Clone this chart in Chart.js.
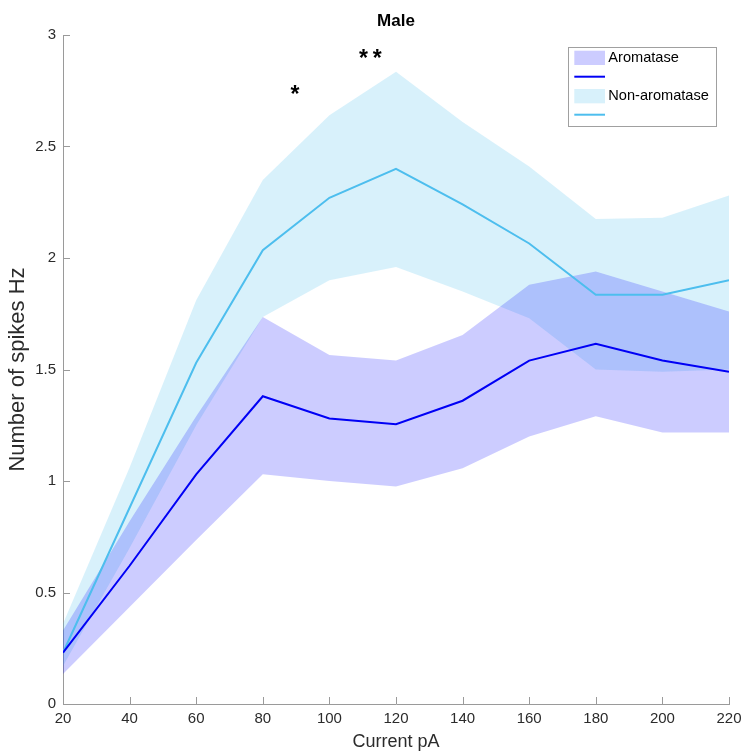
<!DOCTYPE html>
<html>
<head>
<meta charset="utf-8">
<script src="https://cdn.jsdelivr.net/npm/chart.js@4.4.1/dist/chart.umd.min.js"></script>
<style>
  html, body { margin: 0; padding: 0; background: #ffffff; }
  #wrap { width: 744px; height: 753px; }
</style>
</head>
<body>
<div id="wrap"><canvas id="chart" width="744" height="753"></canvas></div>
<script>
// Injected current steps (pA)
const currents = [20, 40, 60, 80, 100, 120, 140, 160, 180, 200, 220];

// Aromatase neurons: mean firing and shaded error band
const aromataseMean  = [0.23, 0.62, 1.03, 1.38, 1.28, 1.255, 1.36, 1.54, 1.615, 1.54, 1.49];
const aromataseUpper = [0.33, 0.82, 1.29, 1.735, 1.565, 1.54, 1.655, 1.88, 1.94, 1.85, 1.76];
const aromataseLower = [0.135, 0.435, 0.735, 1.03, 1.00, 0.975, 1.057, 1.20, 1.29, 1.217, 1.217];

// Non-aromatase neurons: mean firing and shaded error band
const nonAromataseMean  = [0.23, 0.88, 1.53, 2.035, 2.27, 2.40, 2.24, 2.065, 1.835, 1.835, 1.90];
const nonAromataseUpper = [0.36, 1.06, 1.81, 2.35, 2.64, 2.835, 2.61, 2.41, 2.175, 2.18, 2.28];
const nonAromataseLower = [0.17, 0.70, 1.25, 1.735, 1.90, 1.96, 1.85, 1.73, 1.50, 1.49, 1.50];

// Axis ticks
const xTicks = [20, 40, 60, 80, 100, 120, 140, 160, 180, 200, 220];
const yTicks = [0, 0.5, 1, 1.5, 2, 2.5, 3];

// Text
const chartTitle = 'Male';
const xTitle = 'Current pA';
const yTitle = 'Number of spikes Hz';
const seriesNames = ['Aromatase', 'Non-aromatase'];

// Significance marks: [label, current, value at baseline]
const sigMarks = [['*', 90.4, 2.70], ['**', 112.3, 2.863]];

const FONT = '"Liberation Sans", Arial, Helvetica, sans-serif';
const AXIS_COLOR = '#9a9a9a';
const TEXT_COLOR = '#2b2b2b';
const AROM_LINE = 'rgb(0,0,245)';
const AROM_FILL = 'rgba(0,0,255,0.2)';
const NON_LINE = 'rgb(77,190,238)';
const NON_FILL = 'rgba(77,190,238,0.22)';

const pts = arr => arr.map((v, i) => ({ x: currents[i], y: v }));

const bandStyle = { borderWidth: 0, pointRadius: 0, pointHoverRadius: 0, tension: 0 };

const decorations = {
  id: 'decorations',
  afterDraw(chart) {
    const { ctx, chartArea: a, scales: { x, y } } = chart;
    ctx.save();

    // inward tick marks
    ctx.strokeStyle = AXIS_COLOR;
    ctx.lineWidth = 1;
    ctx.beginPath();
    x.ticks.forEach(t => {
      const px = Math.round(x.getPixelForValue(t.value)) + 0.5;
      ctx.moveTo(px, a.bottom);
      ctx.lineTo(px, a.bottom - 7);
    });
    y.ticks.forEach(t => {
      const py = Math.round(y.getPixelForValue(t.value)) + 0.5;
      ctx.moveTo(a.left, py);
      ctx.lineTo(a.left + 7, py);
    });
    ctx.stroke();

    // title
    ctx.fillStyle = '#000';
    ctx.font = 'bold 17px ' + FONT;
    ctx.textAlign = 'center';
    ctx.textBaseline = 'alphabetic';
    ctx.fillText(chartTitle, (a.left + a.right) / 2, 26);

    // significance asterisks
    ctx.font = 'bold 23px ' + FONT;
    if ('letterSpacing' in ctx) ctx.letterSpacing = '5px';
    sigMarks.forEach(([txt, cx, cy]) => {
      ctx.fillText(txt, x.getPixelForValue(cx) + (txt.length > 1 ? 2.5 : 0), y.getPixelForValue(cy));
    });
    if ('letterSpacing' in ctx) ctx.letterSpacing = '0px';

    // legend box
    const bw = 148, bh = 79;
    const bx = a.right - 13.3 - bw, by = a.top + 11.7;
    ctx.fillStyle = '#fff';
    ctx.fillRect(bx, by, bw, bh);
    ctx.strokeStyle = '#a0a0a0';
    ctx.strokeRect(Math.round(bx) + 0.5, Math.round(by) + 0.5, bw, bh);

    const px0 = bx + 6.6, pw = 30.7;
    ctx.fillStyle = AROM_FILL;
    ctx.fillRect(px0, by + 4, pw, 14.3);
    ctx.fillStyle = NON_FILL;
    ctx.fillRect(px0, by + 42.3, pw, 14.3);

    ctx.lineWidth = 2;
    ctx.strokeStyle = AROM_LINE;
    ctx.beginPath(); ctx.moveTo(px0, by + 30); ctx.lineTo(px0 + pw, by + 30); ctx.stroke();
    ctx.strokeStyle = NON_LINE;
    ctx.beginPath(); ctx.moveTo(px0, by + 68); ctx.lineTo(px0 + pw, by + 68); ctx.stroke();

    ctx.fillStyle = '#000';
    ctx.font = '14.6px ' + FONT;
    ctx.textAlign = 'left';
    ctx.textBaseline = 'middle';
    ctx.fillText(seriesNames[0], bx + 40.6, by + 11.3);
    ctx.fillText(seriesNames[1], bx + 40.6, by + 48.9);

    ctx.restore();
  }
};

Chart.defaults.font.family = FONT;
Chart.defaults.color = TEXT_COLOR;

new Chart(document.getElementById('chart'), {
  type: 'line',
  data: {
    datasets: [
      { label: 'aromatase-lower', data: pts(aromataseLower), fill: false, ...bandStyle },
      { label: 'aromatase-upper', data: pts(aromataseUpper), fill: '-1', backgroundColor: AROM_FILL, ...bandStyle },
      { label: 'non-aromatase-lower', data: pts(nonAromataseLower), fill: false, ...bandStyle },
      { label: 'non-aromatase-upper', data: pts(nonAromataseUpper), fill: '-1', backgroundColor: NON_FILL, ...bandStyle },
      { label: seriesNames[0], data: pts(aromataseMean), borderColor: AROM_LINE, borderWidth: 2, pointRadius: 0, tension: 0, fill: false },
      { label: seriesNames[1], data: pts(nonAromataseMean), borderColor: NON_LINE, borderWidth: 2, pointRadius: 0, tension: 0, fill: false }
    ]
  },
  options: {
    responsive: false,
    animation: false,
    events: [],
    layout: { padding: { top: 35, right: 15, bottom: 0, left: 0 } },
    plugins: {
      legend: { display: false },
      title: { display: false },
      tooltip: { enabled: false },
      filler: { drawTime: 'beforeDatasetsDraw' }
    },
    scales: {
      x: {
        type: 'linear',
        min: xTicks[0],
        max: xTicks[xTicks.length - 1],
        afterBuildTicks: s => { s.ticks = xTicks.map(v => ({ value: v })); },
        afterFit: s => { s.height = 49; s.paddingLeft = 0; s.paddingRight = 0; },
        grid: { display: false, drawTicks: false },
        border: { display: true, color: AXIS_COLOR, width: 1 },
        ticks: { padding: 6, font: { size: 15 }, color: TEXT_COLOR, maxRotation: 0, autoSkip: false, callback: v => String(v) },
        title: { display: true, text: xTitle, font: { size: 18 }, color: TEXT_COLOR, padding: { top: 0, bottom: 0 } }
      },
      y: {
        type: 'linear',
        min: yTicks[0],
        max: yTicks[yTicks.length - 1],
        afterBuildTicks: s => { s.ticks = yTicks.map(v => ({ value: v })); },
        afterFit: s => { s.width = 63; s.paddingTop = 0; s.paddingBottom = 0; },
        grid: { display: false, drawTicks: false },
        border: { display: true, color: AXIS_COLOR, width: 1 },
        ticks: { padding: 7, font: { size: 15 }, color: TEXT_COLOR, autoSkip: false, callback: v => String(v) },
        title: { display: true, text: yTitle, font: { size: 22 }, color: TEXT_COLOR, padding: { top: 5, bottom: 0 } }
      }
    }
  },
  plugins: [decorations]
});
</script>
</body>
</html>
